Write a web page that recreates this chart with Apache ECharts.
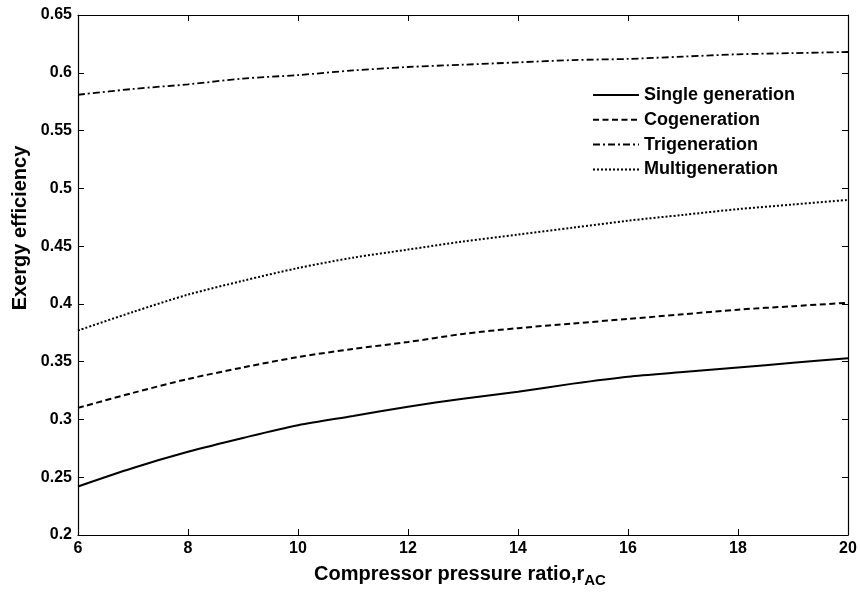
<!DOCTYPE html>
<html>
<head>
<meta charset="utf-8">
<script src="https://cdn.jsdelivr.net/npm/echarts@6/dist/echarts.min.js"></script>
<style>html,body{margin:0;padding:0;background:#fff}#c{width:860px;height:592px}</style>
</head>
<body>
<div id="c"></div>
<script>
var xValues = [6, 7, 8, 9, 10, 11, 12, 13, 14, 15, 16, 17, 18, 19, 20];
var singleGen = [0.242, 0.258, 0.272, 0.284, 0.295, 0.303, 0.311, 0.318, 0.324, 0.331, 0.337, 0.341, 0.345, 0.349, 0.353];
var coGen = [0.310, 0.323, 0.335, 0.345, 0.354, 0.361, 0.367, 0.374, 0.379, 0.383, 0.387, 0.391, 0.395, 0.398, 0.401];
var triGen = [0.581, 0.586, 0.590, 0.595, 0.598, 0.602, 0.605, 0.607, 0.609, 0.611, 0.612, 0.614, 0.616, 0.617, 0.618];
var multiGen = [0.377, 0.393, 0.408, 0.420, 0.431, 0.440, 0.447, 0.454, 0.460, 0.466, 0.472, 0.477, 0.482, 0.486, 0.490];
var seriesNames = ['Single generation', 'Cogeneration', 'Trigeneration', 'Multigeneration'];

function pairs(ys) { return xValues.map(function (x, i) { return [x, ys[i]]; }); }

var font = 'Liberation Sans, Arial, sans-serif';
var chart = echarts.init(document.getElementById('c'), null, { renderer: 'canvas' });
var axisLine = { show: true, lineStyle: { color: '#000', width: 1.2 } };
var tick = { show: true, inside: true, length: 6, lineStyle: { color: '#000', width: 1 } };
var lbl = { color: '#000', fontFamily: font, fontWeight: 'bold', fontSize: 16 };

chart.setOption({
  animation: false,
  backgroundColor: '#fff',
  grid: { left: 78, right: 12, top: 15, bottom: 57, containLabel: false },
  legend: {
    orient: 'vertical', left: 587, top: 81,
    itemWidth: 46, itemHeight: 18, itemGap: 6.8,
    itemStyle: { opacity: 0 },
    textStyle: { color: '#000', fontFamily: font, fontWeight: 'bold', fontSize: 18 },
    data: seriesNames
  },
  xAxis: [{
    type: 'value', min: 6, max: 20, interval: 2,
    axisLine: axisLine, axisTick: tick, splitLine: { show: false },
    axisLabel: Object.assign({ margin: 6 }, lbl)
  }, {
    type: 'value', position: 'top', min: 6, max: 20, interval: 2,
    axisLine: axisLine, axisTick: tick, splitLine: { show: false },
    axisLabel: { show: false }
  }],
  yAxis: [{
    type: 'value', min: 0.2, max: 0.65, interval: 0.05,
    axisLine: axisLine, axisTick: tick, splitLine: { show: false },
    axisLabel: Object.assign({ margin: 6, formatter: function (v) { return String(parseFloat(v.toFixed(2))); } }, lbl)
  }, {
    type: 'value', position: 'right', min: 0.2, max: 0.65, interval: 0.05,
    axisLine: axisLine, axisTick: tick, splitLine: { show: false },
    axisLabel: { show: false }
  }],
  graphic: [{
    type: 'text', x: 20, y: 228, rotation: Math.PI / 2,
    style: { text: 'Exergy efficiency', fill: '#000', font: 'bold 20px ' + font, textAlign: 'center', textVerticalAlign: 'middle' }
  }, {
    type: 'text', x: 460, y: 574,
    style: {
      text: '{a|Compressor pressure ratio,r}{b|AC}', textAlign: 'center', textVerticalAlign: 'middle',
      rich: {
        a: { fill: '#000', font: 'bold 20px ' + font },
        b: { fill: '#000', font: 'bold 15px ' + font, padding: [14, 0, 0, 0] }
      }
    }
  }],
  series: [
    { name: seriesNames[0], type: 'line', data: pairs(singleGen), symbol: 'none', smooth: 0.3,
      lineStyle: { color: '#000', width: 2, type: 'solid' }, itemStyle: { color: '#000' } },
    { name: seriesNames[1], type: 'line', data: pairs(coGen), symbol: 'none', smooth: 0.3,
      lineStyle: { color: '#000', width: 2, type: [6, 3.5] }, itemStyle: { color: '#000' } },
    { name: seriesNames[2], type: 'line', data: pairs(triGen), symbol: 'none', smooth: 0.3,
      lineStyle: { color: '#000', width: 1.8, type: [7, 3, 2, 3] }, itemStyle: { color: '#000' } },
    { name: seriesNames[3], type: 'line', data: pairs(multiGen), symbol: 'none', smooth: 0.3,
      lineStyle: { color: '#000', width: 2, type: [2, 2] }, itemStyle: { color: '#000' } }
  ]
});
</script>
</body>
</html>
